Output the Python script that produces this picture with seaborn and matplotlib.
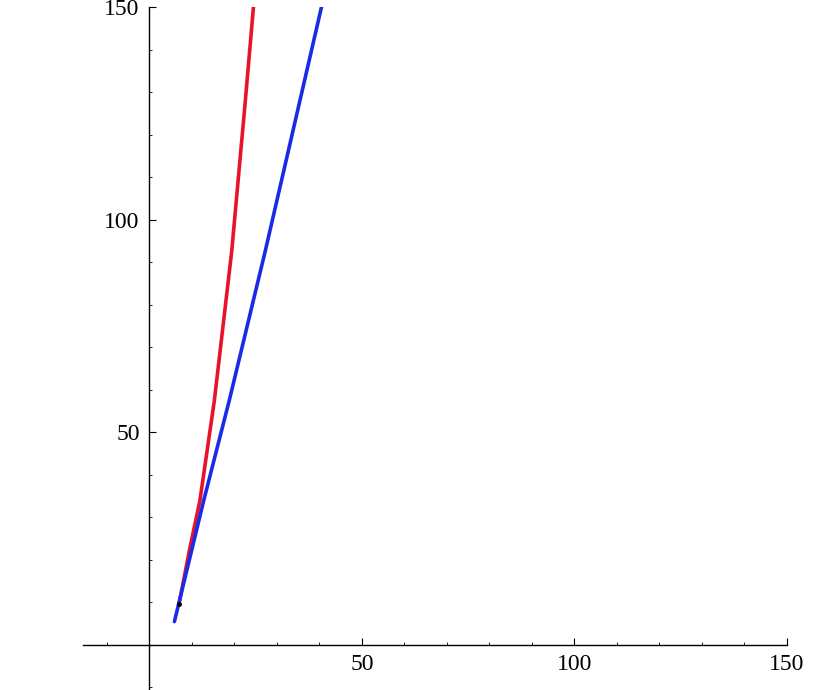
import numpy as np
import pandas as pd
import seaborn as sns
import matplotlib.pyplot as plt
from matplotlib.ticker import MultipleLocator

# points
red_x = [7.0, 9.4, 11.9, 15.3, 19.4, 22.5, 24.5]
red_y = [9.6, 22.0, 33.9, 57.4, 92.7, 127.0, 150.0]
blue_x = [5.9, 12.8, 18.8, 27.3, 40.5]
blue_y = [5.4, 33.9, 57.4, 92.7, 150.0]
mark_x = [7.06]
mark_y = [9.6]

major_ticks = [50, 100, 150]

sns.set_style("ticks")
plt.rcParams['font.family'] = ['Liberation Serif', 'DejaVu Serif']

df_red = pd.DataFrame({"x": red_x, "y": red_y})
df_blue = pd.DataFrame({"x": blue_x, "y": blue_y})

fig = plt.figure(figsize=(8.19, 6.90), dpi=100)
ax = fig.add_axes([83 / 819, 0.0, 704 / 819, 683 / 690])

sns.lineplot(data=df_red, x="x", y="y", sort=False, estimator=None,
             color="#e6142b", linewidth=2.6, ax=ax)
sns.lineplot(data=df_blue, x="x", y="y", sort=False, estimator=None,
             color="#1a2ae6", linewidth=2.6, ax=ax)
ax.plot(mark_x, mark_y, marker="o", markersize=2.5, color="black", linestyle="none")

ax.set_xlim(-15.6, 150)
ax.set_ylim(-10.7, 150)

# axes through the origin, Mathematica style
ax.spines["left"].set_position(("data", 0))
ax.spines["bottom"].set_position(("data", 0))
ax.spines["right"].set_visible(False)
ax.spines["top"].set_visible(False)
for s in ("left", "bottom"):
    ax.spines[s].set_linewidth(1.0)
    ax.spines[s].set_color("black")

ax.set_xticks(major_ticks)
ax.set_yticks(major_ticks)
ax.xaxis.set_minor_locator(MultipleLocator(10))
ax.yaxis.set_minor_locator(MultipleLocator(10))
ax.tick_params(which="major", direction="in", length=5, width=0.8,
               labelsize=17, pad=7, colors="black")
ax.tick_params(which="minor", direction="in", length=2.5, width=0.6, colors="black")

ax.set_xlabel("")
ax.set_ylabel("")

fig.savefig("out.png", dpi=100)
